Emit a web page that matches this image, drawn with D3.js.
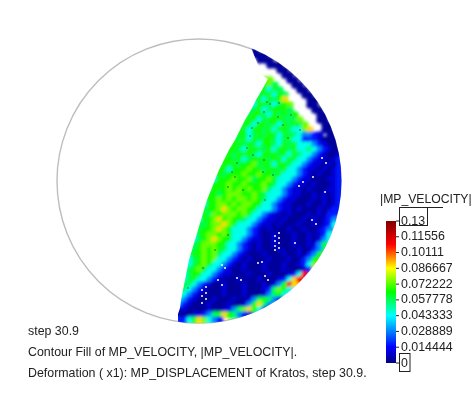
<!DOCTYPE html>
<html>
<head>
<meta charset="utf-8">
<title>MP_VELOCITY</title>
<script src="https://cdn.jsdelivr.net/npm/d3@7"></script>
<style>
  body { margin: 0; background: #fff; }
  text { font-family: "Liberation Sans", Arial, sans-serif; fill: #222; }
</style>
</head>
<body>
<svg id="drawing_region"></svg>
<script>
// legend ticks, top to bottom
const tick_values = [0.13, 0.11556, 0.10111, 0.086667, 0.072222, 0.057778, 0.043333, 0.028889, 0.014444, 0];
const tick_labels = ['0.13', '0.11556', '0.10111', '0.086667', '0.072222', '0.057778', '0.043333', '0.028889', '0.014444', '0'];

const color_values = [0, 0.0144, 0.0433, 0.065, 0.0867, 0.1083, 0.13];
const color_names = ['#00007f', '#0000ff', '#00ffff', '#00ff00', '#ffff00', '#ff0000', '#7f0000'];

const band_values = [0.003, 0.010, 0.017, 0.030, 0.045, 0.058, 0.066, 0.074, 0.090, 0.108];

// one string per row of the particle field, one digit per column, space = empty
const field_rows = [
  '                0',
  '                000',
  '                 000',
  '                   000',
  '                     00',
  '                      00',
  '                   7   00',
  '                  675   00',
  '                  6465   00',
  '                 566465   00',
  '                5646568    00',
  '                46654567   00',
  '               656456665    00',
  '               5665465656    00',
  '              566456665557   00',
  '             56646656465657   00',
  '             564665646654478  00',
  '            566456566465543321 00',
  '            656465665456442221000',
  '           5665654665465644432100',
  '           66546665646656445432100',
  '          565666546665646544321001',
  '          665645666566465443211012',
  '         5666566756646654432110102',
  '         6646667665665644321101012',
  '        66566676676656444321010012',
  '        46667667566764443211000112',
  '        66676676667654432110100012',
  '       566676767667544321101000112',
  '       665677766765444321100101012',
  '      5667676776765443211000101012',
  '      4667767677664432110001001012',
  '      5667876776644432110100010122',
  '     6657677767644321101000101022',
  '     4667867665443211010001010123',
  '     6567787644432110100010010124',
  '     566787644432101000100100123',
  '    4667767644432100100010010124',
  '    4567876644321100100010010134',
  '    567776644321010010001001135',
  '   5567676544321010001000100235',
  '   566767544321000100010010236',
  '   45676744321010001000100236',
  '   45676443210100010001001247',
  '  456764432100100010001000128',
  '  4566443211000100010001249',
  '  456443210001000100012489',
  '  55432100100010001013698',
  '  5432100010001000125764',
  ' 5432100001000100013564',
  ' 432100010001001356532',
  ' 3210001000100136853',
  ' 110000100113578642',
  ' 000112356865321',
  '  24687432'
];

// left outline of the particle cloud
const edge_x = [250, 262, 268, 262, 256, 251, 245, 240, 235, 229, 224, 219, 215, 211, 207, 204, 201, 198, 195, 192, 189, 187, 185, 183, 181, 180, 178, 178];
const edge_y = [45, 75, 79, 90, 100, 110, 120, 130, 140, 150, 160, 170, 180, 190, 200, 210, 220, 230, 240, 250, 260, 270, 280, 290, 300, 308, 314, 330];

// white gaps and dark particles, in picture coordinates
const white_x = [275, 275, 275, 275, 279, 279, 279, 279, 258, 262, 237, 241, 222, 225, 265, 268, 202, 202, 202, 206, 206, 206, 295, 303, 299, 313, 322, 326, 325, 312, 316, 218, 222];
const white_y = [236, 241, 246, 250, 233, 238, 243, 248, 263, 262, 278, 280, 265, 268, 276, 280, 290, 296, 303, 287, 293, 299, 243, 182, 186, 177, 158, 163, 192, 220, 224, 280, 285];
const dark_x = [267, 270, 264, 279, 278, 258, 252, 247, 253, 264, 237, 232, 235, 263, 273, 288, 250, 265, 228, 228, 215, 203, 188, 187, 291, 283, 300, 243];
const dark_y = [102, 104, 112, 103, 117, 123, 128, 148, 155, 160, 163, 172, 177, 172, 175, 138, 136, 200, 187, 235, 250, 268, 288, 265, 115, 125, 130, 190];

const texts = ['step 30.9', 'Contour Fill of MP_VELOCITY, |MP_VELOCITY|.', 'Deformation ( x1): MP_DISPLACEMENT of Kratos, step 30.9.'];

const svg = d3.select('#drawing_region')
    .attr('width', 474)
    .attr('height', 395)
    .style('display', 'block');

const defs = svg.append('defs');
defs.append('filter').attr('id', 'soft').append('feGaussianBlur').attr('stdDeviation', 1.5);
defs.append('filter').attr('id', 'soft_text').append('feGaussianBlur').attr('stdDeviation', 0.35);
defs.append('filter').attr('id', 'soft_dot').append('feGaussianBlur').attr('stdDeviation', 0.4);
defs.append('clipPath').attr('id', 'disc').append('circle')
    .attr('cx', 199).attr('cy', 181).attr('r', 142.5);

// the cloud is cut along its left outline, then closed off to the right
const outline = d3.range(edge_x.length).map( i => [edge_x[i], edge_y[i]] );
defs.append('clipPath').attr('id', 'cloud').append('path')
    .attr('d', d3.line()(outline.concat([[400, 330], [400, 45]])) + 'Z');

const color = d3.scaleLinear().domain(color_values).range(color_names);
const x_col = d3.scaleLinear().domain([0, 33]).range([175, 340]);
const y_row = d3.scaleLinear().domain([0, 54]).range([50, 320]);

svg.append('circle')
    .attr('cx', 199).attr('cy', 181).attr('r', 142)
    .attr('fill', 'none')
    .attr('stroke', '#bdbdbd')
    .attr('stroke-width', 1.4);

// particle field
const cells = [];
field_rows.forEach( (row, r) => {
    const first = row.search(/\S/);
    row.split('').forEach( (c, i) => {
        if (c === ' ') return;
        if (i === first && r > 5) cells.push({ col: i - 1, row: r, v: band_values[+c] });
        cells.push({ col: i, row: r, v: band_values[+c] });
    });
});

const field = svg.append('g').attr('filter', 'url(#soft_dot)')
    .append('g').attr('clip-path', 'url(#disc)')
    .append('g').attr('clip-path', 'url(#cloud)');

field.append('g')
    .attr('filter', 'url(#soft)')
    .selectAll('circle')
    .data(cells)
    .join('circle')
    .attr('cx', d => x_col(d.col))
    .attr('cy', d => y_row(d.row))
    .attr('r', 3.8)
    .attr('fill', d => color(d.v));

field.selectAll('.white')
    .data(white_x)
    .join('circle')
    .attr('class', 'white')
    .attr('cx', d => d)
    .attr('cy', (d, i) => white_y[i])
    .attr('r', 1)
    .attr('fill', '#fff');
field.selectAll('.dark')
    .data(dark_x)
    .join('circle')
    .attr('class', 'dark')
    .attr('cx', d => d)
    .attr('cy', (d, i) => dark_y[i])
    .attr('r', 0.8)
    .attr('fill', '#063');

// legend
const y_legend = d3.scaleLinear().domain([0, 0.13]).range([363, 221]);
const gradient = defs.append('linearGradient')
    .attr('id', 'legend_fill')
    .attr('x1', 0).attr('x2', 0).attr('y1', 1).attr('y2', 0);
gradient.selectAll('stop')
    .data(color_values)
    .join('stop')
    .attr('offset', d => d / 0.13)
    .attr('stop-color', d => color(d));

const text_layer = svg.append('g').attr('filter', 'url(#soft_text)');

text_layer.append('rect')
    .attr('x', 386).attr('y', y_legend(0.13))
    .attr('width', 10).attr('height', y_legend(0) - y_legend(0.13))
    .attr('fill', 'url(#legend_fill)');

text_layer.selectAll('.tick')
    .data(tick_values)
    .join('line')
    .attr('class', 'tick')
    .attr('x1', 396).attr('x2', 399)
    .attr('y1', d => y_legend(d))
    .attr('y2', d => y_legend(d))
    .attr('stroke', '#222');

text_layer.selectAll('.label')
    .data(tick_labels)
    .join('text')
    .attr('class', 'label')
    .attr('x', 401)
    .attr('y', (d, i) => y_legend(tick_values[i]) + 3.5)
    .attr('font-size', 12.4)
    .text(d => d);

text_layer.append('text')
    .attr('x', 380).attr('y', 203)
    .attr('font-size', 12.2)
    .text('|MP_VELOCITY|');

text_layer.append('rect')
    .attr('x', 399.5).attr('y', 207.5).attr('width', 28).attr('height', 18)
    .attr('fill', 'none').attr('stroke', '#222');
text_layer.append('line')
    .attr('x1', 399.5).attr('x2', 443).attr('y1', 207.5).attr('y2', 207.5)
    .attr('stroke', '#222');
text_layer.append('rect')
    .attr('x', 399.5).attr('y', 353.5).attr('width', 10.5).attr('height', 18)
    .attr('fill', 'none').attr('stroke', '#222');

text_layer.selectAll('.note')
    .data(texts)
    .join('text')
    .attr('class', 'note')
    .attr('x', 28)
    .attr('y', (d, i) => 335 + i * 21)
    .attr('font-size', 12.4)
    .text(d => d);
</script>
</body>
</html>
